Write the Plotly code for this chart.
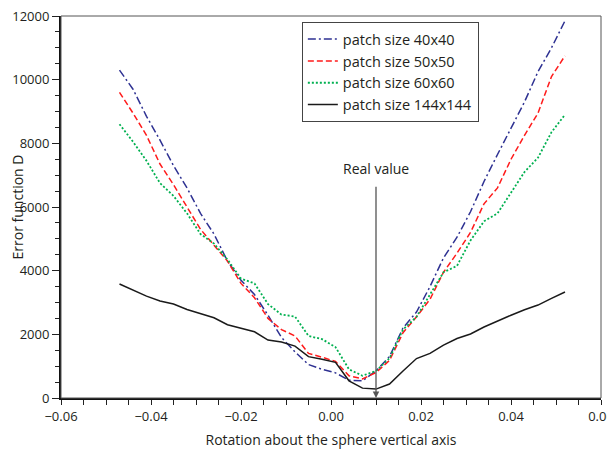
import plotly.graph_objects as go

rotation = [-0.047, -0.044, -0.041, -0.038, -0.035, -0.032, -0.029, -0.026, -0.023, -0.020,
            -0.017, -0.014, -0.011, -0.008, -0.005, -0.002, 0.001, 0.004, 0.007, 0.010,
            0.013, 0.016, 0.019, 0.022, 0.025, 0.028, 0.031, 0.034, 0.037, 0.040,
            0.043, 0.046, 0.049, 0.052]

patch_40 = [10300, 9700, 8850, 8100, 7300, 6600, 5800, 5150, 4300, 3700,
            3250, 2600, 1900, 1450, 1050, 900, 790, 560, 540, 850,
            1300, 2200, 2700, 3500, 4400, 5050, 5850, 6800, 7650, 8500,
            9300, 10250, 11000, 11850]

patch_50 = [9600, 8950, 8250, 7350, 6700, 6000, 5300, 4800, 4300, 3600,
            3150, 2500, 2150, 1950, 1400, 1280, 1150, 700, 600, 800,
            1180, 2050, 2550, 3100, 3950, 4550, 5200, 6100, 6600, 7500,
            8250, 8950, 10100, 10750]

patch_60 = [8600, 8050, 7450, 6750, 6350, 5800, 5150, 4850, 4350, 3750,
            3600, 2950, 2620, 2560, 1950, 1850, 1600, 900, 700, 850,
            1250, 2150, 2550, 3250, 3950, 4150, 4950, 5550, 5800, 6450,
            7100, 7550, 8350, 8900]

patch_144 = [3580, 3400, 3200, 3050, 2950, 2780, 2650, 2520, 2300, 2200,
             2080, 1820, 1760, 1630, 1300, 1220, 1120, 540, 310, 280,
             440, 850, 1240, 1400, 1660, 1870, 2010, 2230, 2420, 2600,
             2770, 2920, 3130, 3330]

series_names = ["patch size 40x40", "patch size 50x50", "patch size 60x60", "patch size 144x144"]
real_value = 0.01
real_label = "Real value"
x_title = "Rotation about the sphere vertical axis"
y_title = "Error function D"

FONT = "Open Sans"
TXT = "#231f20"

fig = go.Figure()
styles = [
    dict(color="#2e3192", dash="8px,3px,2px,3px", width=1.5),
    dict(color="#ff1a1a", dash="6px,3px", width=1.5),
    dict(color="#00b050", dash="2px,2px", width=1.8),
    dict(color="#1a1a1a", dash="solid", width=1.5),
]
for name, ys, st in zip(series_names, [patch_40, patch_50, patch_60, patch_144], styles):
    fig.add_trace(go.Scatter(x=rotation, y=ys, mode="lines", name=name, line=st))

fig.add_annotation(
    x=real_value, y=0, ax=real_value, ay=7200, axref="x", ayref="y", xref="x", yref="y",
    text=real_label, showarrow=True, arrowhead=2, arrowsize=1, arrowwidth=1.3,
    arrowcolor="#555555", startstandoff=7, standoff=0,
    font=dict(family=FONT, size=14, color=TXT),
)

# thin top/right frame
fig.add_shape(type="rect", xref="paper", yref="paper", x0=0, y0=0, x1=1, y1=1,
              line=dict(color="#555555", width=1), layer="above")

fig.update_layout(
    width=607, height=441,
    margin=dict(l=53, r=14, t=8, b=51, autoexpand=False),
    paper_bgcolor="white", plot_bgcolor="white",
    font=dict(family=FONT, size=13, color=TXT),
    showlegend=True,
    legend=dict(x=0.446, y=0.984, xanchor="left", yanchor="top",
                bordercolor="#444444", borderwidth=1, bgcolor="white",
                font=dict(family=FONT, size=14.5, color=TXT),
                tracegroupgap=0, itemwidth=30),
)
fig.update_xaxes(
    range=[-0.06, 0.06], tickvals=[-0.06, -0.04, -0.02, 0.0, 0.02, 0.04, 0.06],
    tickformat=".2f", showgrid=False, zeroline=False, automargin=False,
    ticklabeloverflow="allow",
    showline=True, linecolor="#111111", linewidth=2,
    ticks="outside", ticklen=5, tickwidth=1, tickcolor="#222222",
    minor=dict(dtick=0.005, ticks="outside", ticklen=5, tickwidth=1, tickcolor="#222222", showgrid=False),
    title=dict(text=x_title, font=dict(family=FONT, size=14, color=TXT), standoff=14),
    tickfont=dict(family=FONT, size=13, color=TXT),
)
fig.update_yaxes(
    range=[0, 12000], tickvals=[0, 2000, 4000, 6000, 8000, 10000, 12000],
    tickformat="d", showgrid=False, zeroline=False, automargin=False,
    ticklabeloverflow="allow",
    showline=True, linecolor="#111111", linewidth=2,
    ticks="outside", ticklen=7, tickwidth=1, tickcolor="#222222",
    minor=dict(dtick=500, ticks="outside", ticklen=4, tickwidth=1, tickcolor="#222222", showgrid=False),
    title=dict(text=y_title, font=dict(family=FONT, size=14, color=TXT), standoff=6),
    tickfont=dict(family=FONT, size=13, color=TXT),
)

fig.write_html("out.html")
